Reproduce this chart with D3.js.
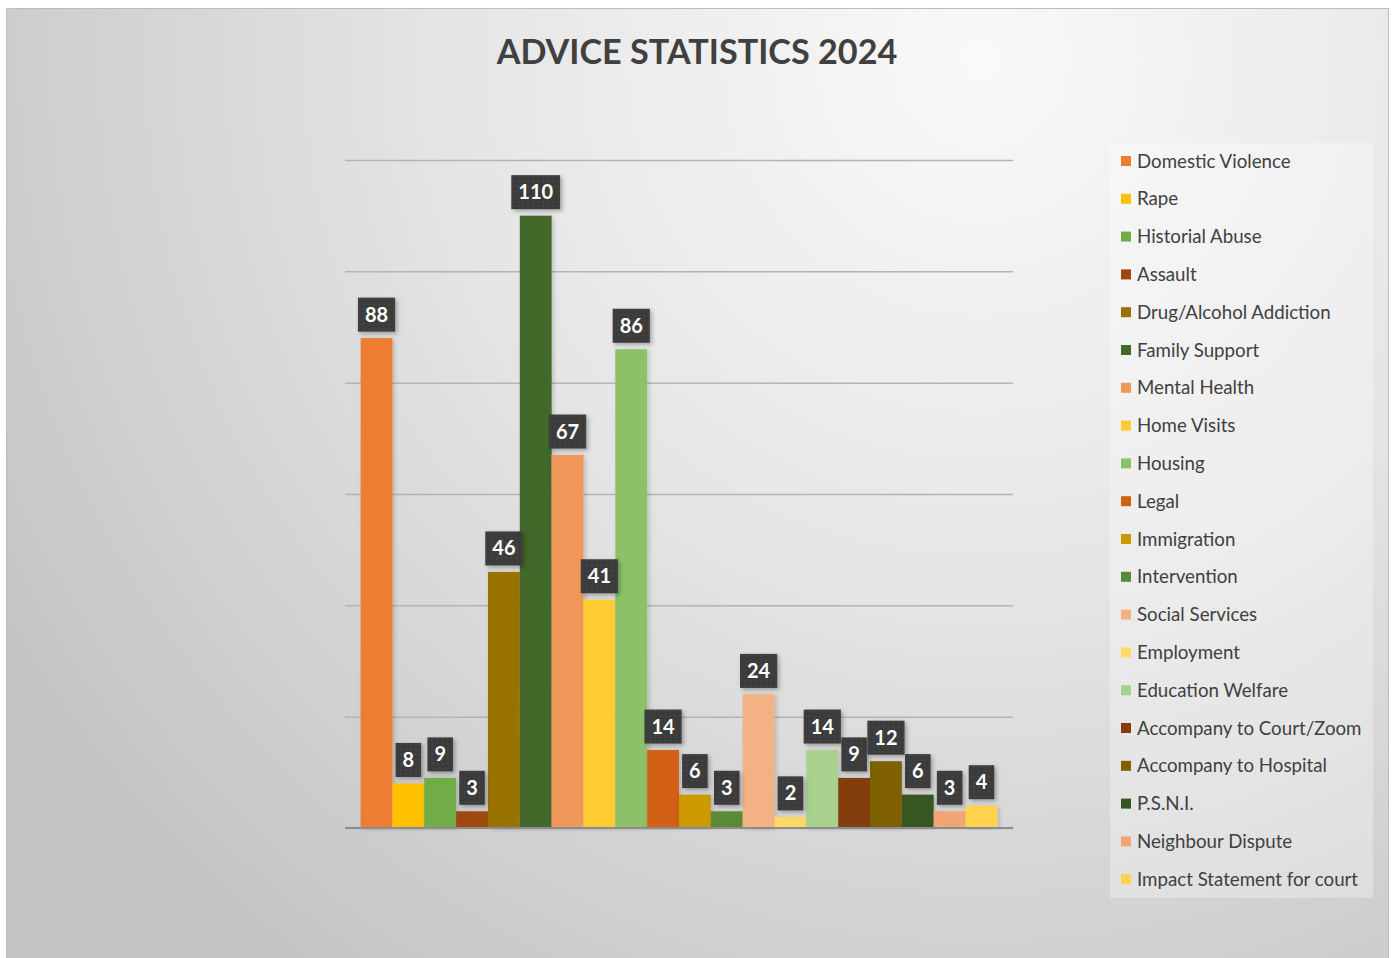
<!DOCTYPE html>
<html lang="en">
<head>
<meta charset="utf-8">
<title>Advice Statistics 2024</title>
<script src="https://d3js.org/d3.v7.min.js"></script>
<style>
  body { margin: 0; background: #fff; }
  svg { display: block; font-family: Lato, "Open Sans", sans-serif; }
</style>
</head>
<body>
<svg id="chart" width="1393" height="958"></svg>
<script>
// data
const categories = ["Domestic Violence", "Rape", "Historial Abuse", "Assault",
  "Drug/Alcohol Addiction", "Family Support", "Mental Health", "Home Visits",
  "Housing", "Legal", "Immigration", "Intervention", "Social Services",
  "Employment", "Education Welfare", "Accompany to Court/Zoom",
  "Accompany to Hospital", "P.S.N.I.", "Neighbour Dispute", "Impact Statement for court"]
const values = [88, 8, 9, 3, 46, 110, 67, 41, 86, 14, 6, 3, 24, 2, 14, 9, 12, 6, 3, 4]
const colors = ["#ed7d31", "#ffc000", "#70ad47", "#9e480e", "#997300", "#43682b",
  "#f1975a", "#ffcd33", "#8cc168", "#d26012", "#cc9a00", "#5a8a39",
  "#f4b183", "#ffd966", "#a9d18e", "#843c0c", "#7f6000", "#375623",
  "#f4a574", "#ffd34d"]
const yTicks = [0, 20, 40, 60, 80, 100, 120]

const svg = d3.select("#chart")
const defs = svg.append("defs")

// background gradient of the chart frame
const bg = defs.append("radialGradient").attr("id", "bg")
  .attr("gradientUnits", "userSpaceOnUse")
  .attr("cx", 980).attr("cy", 60).attr("r", 1150)
bg.append("stop").attr("offset", "0").attr("stop-color", "#f9f9f9")
bg.append("stop").attr("offset", "0.45").attr("stop-color", "#e6e6e6")
bg.append("stop").attr("offset", "1").attr("stop-color", "#c3c3c3")

// dotted fill for value labels
const pat = defs.append("pattern").attr("id", "dots")
  .attr("width", 5).attr("height", 5).attr("patternUnits", "userSpaceOnUse")
pat.append("rect").attr("width", 5).attr("height", 5).attr("fill", "#3b3b3b")
pat.append("circle").attr("cx", 2.5).attr("cy", 2.5).attr("r", 0.8).attr("fill", "#4e4e4e")

const shadow = defs.append("filter").attr("id", "shadow")
  .attr("x", "-20%").attr("y", "-20%").attr("width", "150%").attr("height", "150%")
shadow.append("feDropShadow").attr("dx", 2).attr("dy", 2).attr("stdDeviation", 2)
  .attr("flood-color", "#000").attr("flood-opacity", 0.3)

const barShadow = defs.append("filter").attr("id", "barShadow")
  .attr("x", "-20%").attr("y", "-5%").attr("width", "150%").attr("height", "110%")
barShadow.append("feDropShadow").attr("dx", 2).attr("dy", 1).attr("stdDeviation", 2)
  .attr("flood-color", "#000").attr("flood-opacity", 0.18)

// chart frame
svg.append("rect").attr("x", 6).attr("y", 8).attr("width", 1383).attr("height", 960)
  .attr("fill", "#bdbdbd")
svg.append("rect").attr("x", 7).attr("y", 9).attr("width", 1381).attr("height", 960)
  .attr("fill", "url(#bg)")

// title
svg.append("text").attr("x", 697).attr("y", 64)
  .attr("text-anchor", "middle")
  .attr("font-size", 34.2).attr("font-weight", "bold").attr("fill", "#404040")
  .text("ADVICE STATISTICS 2024")

// scales
const margin = {left: 345, right: 1013, top: 160, bottom: 828}
const x = d3.scaleBand().domain(categories)
  .range([margin.left, margin.right]).paddingInner(0).paddingOuter(0.49)
const y = d3.scaleLinear().domain([0, 120]).range([margin.bottom, margin.top])

// gridlines
const grid = svg.append("g")
  .attr("transform", `translate(${margin.left},0)`)
  .call(d3.axisLeft(y).tickValues(yTicks).tickSize(-(margin.right - margin.left)).tickFormat(""))
grid.select(".domain").remove()
grid.selectAll(".tick line").attr("stroke", "#b4b4b4").attr("stroke-width", 1.5)

// bars
svg.append("g").selectAll("rect")
  .data(values)
  .join("rect")
  .attr("x", (d, i) => x(categories[i]))
  .attr("y", d => y(d))
  .attr("width", x.bandwidth())
  .attr("height", d => y(0) - y(d))
  .attr("fill", (d, i) => colors[i])
  .attr("filter", "url(#barShadow)")

// baseline
svg.append("line")
  .attr("x1", margin.left).attr("x2", margin.right)
  .attr("y1", y(0)).attr("y2", y(0))
  .attr("stroke", "#8c8c8c").attr("stroke-width", 2)

// value labels
const labels = svg.append("g").selectAll("g")
  .data(values)
  .join("g")
  .attr("transform", (d, i) => `translate(${x(categories[i]) + x.bandwidth() / 2},${y(d) - 6.5})`)
labels.append("rect").attr("class", "lbox")
  .attr("y", -34).attr("height", 34)
  .attr("fill", "url(#dots)").attr("filter", "url(#shadow)")
labels.append("text")
  .attr("y", -10)
  .attr("text-anchor", "middle")
  .attr("font-size", 20).attr("font-weight", "bold").attr("fill", "#fff")
  .text(d => d)
labels.each(function() {
  const g = d3.select(this)
  const w = g.select("text").node().getComputedTextLength() + 14
  g.select("rect").attr("x", -w / 2).attr("width", w)
})

// legend
svg.append("rect").attr("x", 1110).attr("y", 143).attr("width", 263).attr("height", 755)
  .attr("fill", "#fff").attr("fill-opacity", 0.3)
const leg = svg.append("g").selectAll("g")
  .data(categories)
  .join("g")
  .attr("transform", (d, i) => `translate(1121,${161 + i * 37.8})`)
leg.append("rect").attr("y", -5).attr("width", 10).attr("height", 10)
  .attr("fill", (d, i) => colors[i])
leg.append("text").attr("x", 16).attr("y", 6.5)
  .attr("font-size", 18.7).attr("fill", "#404040")
  .text(d => d)
</script>
</body>
</html>
